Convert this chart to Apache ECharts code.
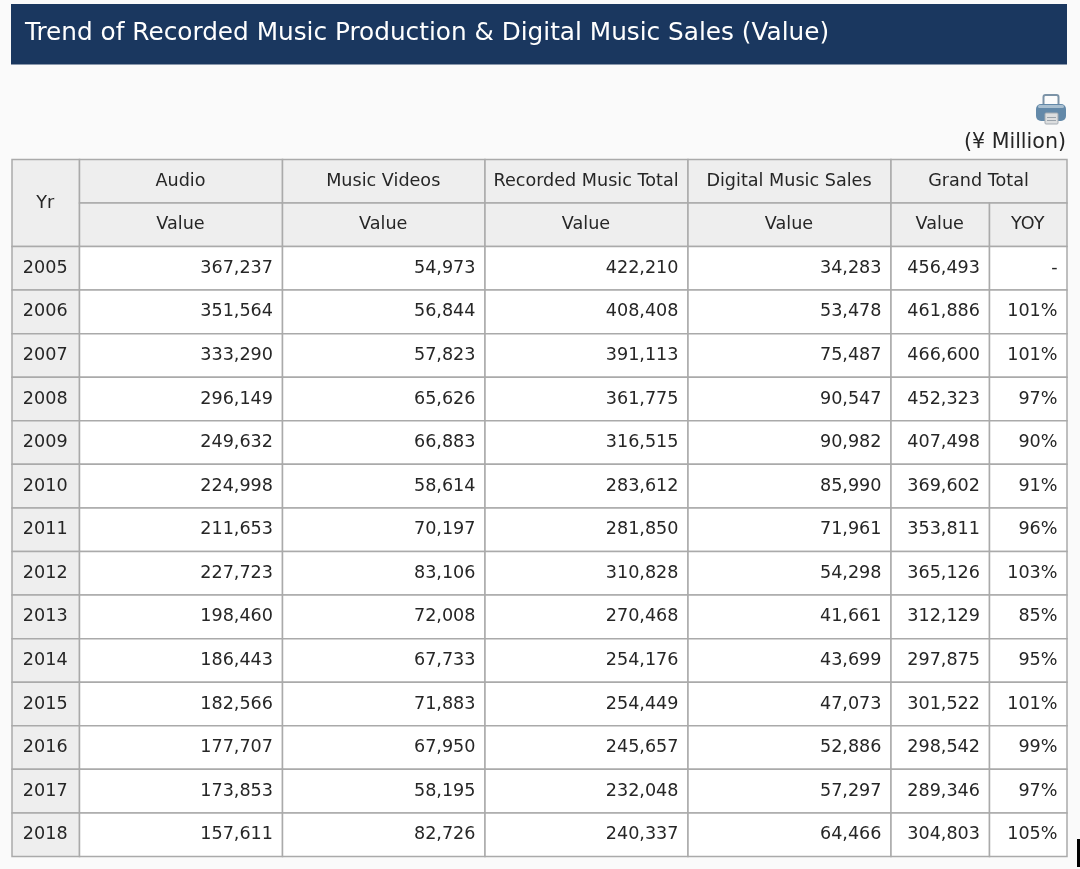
<!DOCTYPE html>
<html>
<head>
<meta charset="UTF-8">
<title>Trend of Recorded Music Production</title>
<script src="https://cdnjs.cloudflare.com/ajax/libs/echarts/6.0.0/echarts.min.js"></script>
<style>
html,body{margin:0;padding:0;background:#fafafa}
#main{width:1080px;height:869px}
</style>
</head>
<body>
<div id="main"></div>
<script>
const years=[2005,2006,2007,2008,2009,2010,2011,2012,2013,2014,2015,2016,2017,2018];
const audio=[367237,351564,333290,296149,249632,224998,211653,227723,198460,186443,182566,177707,173853,157611];
const musicVideos=[54973,56844,57823,65626,66883,58614,70197,83106,72008,67733,71883,67950,58195,82726];
const recordedTotal=[422210,408408,391113,361775,316515,283612,281850,310828,270468,254176,254449,245657,232048,240337];
const digitalSales=[34283,53478,75487,90547,90982,85990,71961,54298,41661,43699,47073,52886,57297,64466];
const grandTotal=[456493,461886,466600,452323,407498,369602,353811,365126,312129,297875,301522,298542,289346,304803];
const yoy=[null,101,101,97,90,91,96,103,85,95,101,99,97,105];
const groupHeaders=["Audio","Music Videos","Recorded Music Total","Digital Music Sales"];
const titleText="Trend of Recorded Music Production & Digital Music Sales (Value)";

// table grid, in page pixels
const colEdges=[12,79.5,282.5,485,688,891,989.5,1067];
const headerEdges=[159.5,203,246.5];
const rowH=(856.5-246.5)/14;
const headFill="#eeeeee",bodyFill="#ffffff",lineColor="#aaaaaa",textColor="#262626";

const cells=[];
function addCell(c0,c1,y0,y1,label,fill,align){
    cells.push({value:[colEdges[c0],colEdges[c1],y0,y1],label:label,fill:fill,align:align||"center"});
}
addCell(0,1,headerEdges[0],headerEdges[2],"Yr",headFill);
groupHeaders.forEach((h,i)=>{
    addCell(i+1,i+2,headerEdges[0],headerEdges[1],h,headFill);
    addCell(i+1,i+2,headerEdges[1],headerEdges[2],"Value",headFill);
});
addCell(5,7,headerEdges[0],headerEdges[1],"Grand Total",headFill);
addCell(5,6,headerEdges[1],headerEdges[2],"Value",headFill);
addCell(6,7,headerEdges[1],headerEdges[2],"YOY",headFill);
const fmt=n=>n.toLocaleString("en-US");
years.forEach((yr,i)=>{
    const y0=headerEdges[2]+i*rowH,y1=y0+rowH;
    addCell(0,1,y0,y1,String(yr),headFill);
    [audio,musicVideos,recordedTotal,digitalSales,grandTotal].forEach((col,c)=>{
        addCell(c+1,c+2,y0,y1,fmt(col[i]),bodyFill,"right");
    });
    addCell(6,7,y0,y1,yoy[i]===null?"-":yoy[i]+"%",bodyFill,"right");
});

function renderCell(params,api){
    const cell=cells[params.dataIndex];
    const p0=api.coord([api.value(0),api.value(2)]);
    const p1=api.coord([api.value(1),api.value(3)]);
    const right=cell.align==="right";
    return {
        type:"group",
        children:[
            {type:"rect",shape:{x:p0[0],y:p0[1],width:p1[0]-p0[0],height:p1[1]-p0[1]},
             style:{fill:cell.fill,stroke:lineColor,lineWidth:1.5}},
            {type:"text",style:{
                x:right?p1[0]-9.5:(p0[0]+p1[0])/2-0.5,
                y:(p0[1]+p1[1])/2,
                text:cell.label,
                fill:textColor,
                font:"17.6px 'DejaVu Sans'",
                align:right?"right":"center",
                verticalAlign:"middle"}}
        ]
    };
}

const chart=echarts.init(document.getElementById("main"),null,{renderer:"canvas"});
chart.setOption({
    animation:false,
    backgroundColor:"#fafafa",
    title:{text:titleText,left:20,top:16,textStyle:{color:"#ffffff",fontFamily:"DejaVu Sans",fontSize:24.75,fontWeight:"normal"}},
    grid:{left:0,right:0,top:0,bottom:0},
    xAxis:{type:"value",min:0,max:1080,show:false},
    yAxis:{type:"value",min:0,max:869,inverse:true,show:false},
    graphic:[
        {type:"rect",z:-1,shape:{x:11,y:4,width:1056,height:60.5},style:{fill:"#1a375f"}},
        {type:"text",right:14,top:132,style:{text:"(¥ Million)",fill:textColor,font:"20.6px 'DejaVu Sans'"}},
        {type:"group",x:1036,y:94,children:[
            {type:"rect",shape:{x:7.5,y:1,width:15,height:13,r:2},style:{fill:"#fcfcfc",stroke:"#7c93a7",lineWidth:2}},
            {type:"rect",shape:{x:0,y:10,width:30,height:17,r:5},style:{fill:"#6389a9"}},
            {type:"rect",shape:{x:2,y:11,width:26,height:3,r:2},style:{fill:"#a9bfd0"}},
            {type:"rect",shape:{x:9,y:19,width:13,height:11,r:1},style:{fill:"#dcdedf",stroke:"#a4abb2",lineWidth:1}},
            {type:"rect",shape:{x:11,y:23,width:9,height:1},style:{fill:"#9aa2aa"}},
            {type:"rect",shape:{x:11,y:26,width:9,height:1},style:{fill:"#9aa2aa"}}
        ]},
        {type:"rect",shape:{x:1077,y:839,width:3,height:28},style:{fill:"#000000"}}
    ],
    series:[{type:"custom",coordinateSystem:"cartesian2d",data:cells,encode:{x:[0,1],y:[2,3]},renderItem:renderCell,silent:true,clip:false}]
});
</script>
</body>
</html>
